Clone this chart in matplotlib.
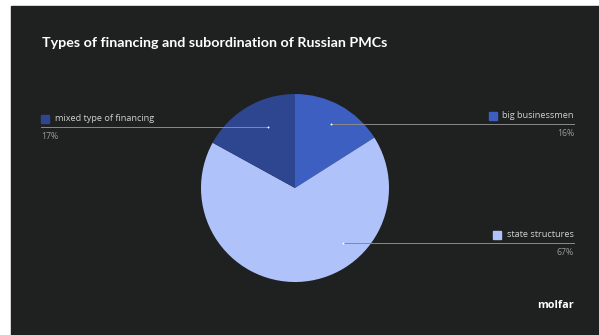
import numpy as np
import matplotlib
matplotlib.use("Agg")
import matplotlib.pyplot as plt
from matplotlib.patches import Rectangle

title = "Types of financing and subordination of Russian PMCs"
labels = ["big businessmen", "state structures", "mixed type of financing"]
shares = [16, 67, 17]
colors = ["#3d5fc2", "#b0c2fa", "#2e4590"]

W, H = 599, 335
fig = plt.figure(figsize=(W / 100, H / 100), dpi=100, facecolor="white")
bg = "#1f2020"
fig.patches.append(Rectangle((11 / W, 0), 1 - 11 / W, 1 - 6 / H,
                             transform=fig.transFigure, color=bg, zorder=-5))

# pie axes: center (295, 188) px, radius 94 px
cx, cy, R = 295, 188, 94
ax = fig.add_axes([(cx - R) / W, (H - cy - R) / H, 2 * R / W, 2 * R / H])
ax.set_zorder(2)
ax.pie(shares, colors=colors, startangle=90, counterclock=False, radius=1,
       wedgeprops=dict(linewidth=0))
ax.set_xlim(-1, 1)
ax.set_ylim(-1, 1)
ax.axis("off")

fig.text(42 / W, 1 - 43 / H, title, color="white", fontsize=10.3,
         fontweight="bold", family="Lato", va="center")

# label layout: (line y, side, anchor x)
layout = {
    "big businessmen": (0.68, 1, 0.38),
    "state structures": (-0.585, 1, 0.51),
    "mixed type of financing": (0.65, -1, -0.29),
}
right_end = (574 - cx) / R
left_end = (41 - cx) / R
sq = 8 / R
renderer = fig.canvas.get_renderer()
for lab, val, col in zip(labels, shares, colors):
    ly, side, ax_x = layout[lab]
    end = right_end if side > 0 else left_end
    ax.plot([ax_x, end], [ly, ly], color="#8a8a8a", lw=0.7, clip_on=False)
    ax.plot([ax_x], [ly], "o", color="white", ms=1.4, mew=0, clip_on=False)
    if side > 0:
        t = ax.text(end, ly + 0.04, lab, color="#d0d0d0", fontsize=6.6,
                    family="Open Sans", ha="right", va="bottom")
        bb = t.get_window_extent(renderer)
        tw = bb.width / R
        ax.add_patch(Rectangle((end - tw - 6 / R - sq, ly + 0.045), sq, sq,
                               color=col, clip_on=False))
        ax.text(end, ly - 0.05, f"{val}%", color="#9a9a9a", fontsize=6.3,
                family="Open Sans", ha="right", va="top")
    else:
        ax.add_patch(Rectangle((end, ly + 0.045), sq, sq,
                               color=col, clip_on=False))
        ax.text(end + sq + 6 / R, ly + 0.04, lab, color="#d0d0d0", fontsize=6.6,
                family="Open Sans", ha="left", va="bottom")
        ax.text(end, ly - 0.05, f"{val}%", color="#9a9a9a", fontsize=6.3,
                family="Open Sans", ha="left", va="top")

fig.text(574 / W, 1 - 306 / H, "molfar", color="white", fontsize=7.8,
         fontweight="bold", family="Open Sans", ha="right", va="center")

fig.savefig("out.png", dpi=100, facecolor="white")
